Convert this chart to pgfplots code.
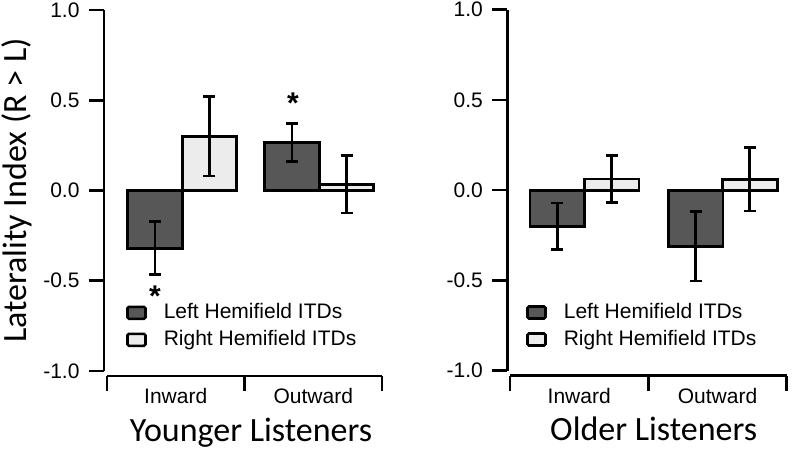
\documentclass[border=0pt]{standalone}
\usepackage{pgfplots}
\pgfplotsset{compat=1.18}
\usepackage{fontspec}
\setmainfont{Liberation Sans}
\newfontfamily\calibri{Carlito}
\definecolor{darkbar}{HTML}{575757}
\definecolor{lightbar}{HTML}{ECECEC}
\pgfplotsset{
  panel/.style={
    scale only axis, height=361pt,
    xmax=2, ymin=-1, ymax=1,
    axis x line*=bottom, axis y line*=left,
    axis line style={line width=2.6pt, -},
    x axis line style={yshift=-5pt, shorten <=3pt},
    xtick={0,1,2}, xticklabels={Inward,Outward}, x tick label as interval,
    xtick style={yshift=-5pt},
    ytick={-1,-0.5,0,0.5,1},
    tick align=outside,
    major tick length=15pt,
    tick style={line width=2.6pt, black},
    yticklabel style={xshift=-6pt, /pgf/number format/.cd, fixed, fixed zerofill, precision=1, assume math mode=true},
    xticklabel style={yshift=1pt},
    tick label style={font=\fontsize{21}{25}\selectfont},
    label style={font=\calibri\fontsize{34}{40}\selectfont},
    clip=false,
    legend cell align=left,
    legend style={draw=none, fill=none, inner sep=0pt, row sep=8pt, column sep=17pt,
      font=\fontsize{21}{25}\selectfont,
      nodes={inner sep=0pt, text height=15pt, text depth=4pt},
      anchor=north west},
  },
  mybar/.style={ybar, bar width=0.396, bar shift=0pt, draw=black, line width=2.8pt, fill=#1,
    error bars/.cd, y dir=both, y explicit,
      error bar style={line width=2.6pt, black},
      error mark options={rotate=90, line width=2.6pt, black, mark size=6pt},
    /pgfplots/.cd,
    legend image code/.code={\draw[line width=2.6pt, rounded corners=1.5pt, draw=black, fill=#1] (0pt,-6pt) rectangle (18pt,6pt);}},
}
\begin{document}
\begin{tikzpicture}
\path[use as bounding box] (0,0) rectangle (800pt,449pt);
\begin{axis}[panel, at={(104pt,78pt)}, anchor=south west, width=278pt, xmin=-0.0218,
  ylabel={Laterality Index (R > L)},
  ylabel style={at={(axis description cs:-0.313,0.5)}, anchor=center},
  xlabel={Younger Listeners},
  xlabel style={at={(axis description cs:0.529,-0.194)}, anchor=base},
  legend style={at={(axis description cs:0.079,0.188)}},
]
\addplot[mybar=darkbar] coordinates {(0.349,-0.32) +- (0,0.147) (1.345,0.265) +- (0,0.106)};
\addplot[mybar=lightbar] coordinates {(0.745,0.30) +- (0,0.22) (1.742,0.035) +- (0,0.16)};
\legend{Left Hemifield ITDs, Right Hemifield ITDs}
\node[anchor=base, font=\bfseries\fontsize{30}{30}\selectfont] at (axis cs:0.349,-0.64) {*};
\node[anchor=base, font=\bfseries\fontsize{30}{30}\selectfont] at (axis cs:1.353,0.425) {*};
\end{axis}
\begin{axis}[panel, at={(507.3pt,78.3pt)}, anchor=south west, width=279.4pt, xmin=-0.0195,
  xlabel={Older Listeners},
  xlabel style={at={(axis description cs:0.524,-0.194)}, anchor=base},
  legend style={at={(axis description cs:0.067,0.188)}},
]
\addplot[mybar=darkbar] coordinates {(0.343,-0.20) +- (0,0.13) (1.341,-0.31) +- (0,0.192)};
\addplot[mybar=lightbar] coordinates {(0.734,0.062) +- (0,0.13) (1.733,0.06) +- (0,0.176)};
\legend{Left Hemifield ITDs, Right Hemifield ITDs}
\end{axis}
\end{tikzpicture}
\end{document}
